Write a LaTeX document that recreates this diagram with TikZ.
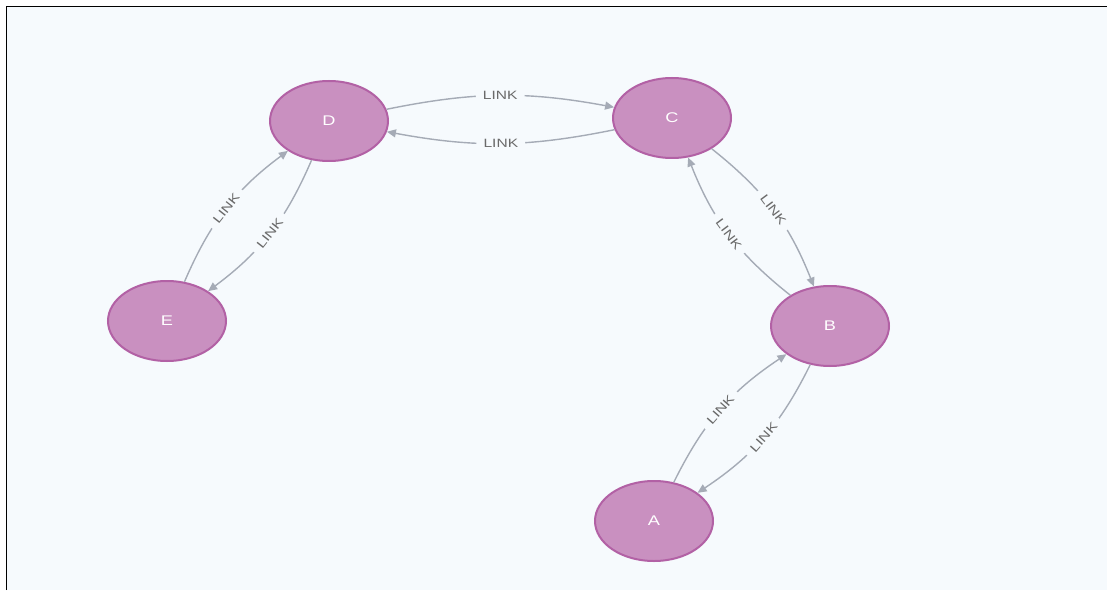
\documentclass[tikz,border=0pt]{standalone}
\usepackage{fontspec}
\usepackage{graphicx}
\setmainfont{Liberation Sans}
\usetikzlibrary{shapes.geometric,arrows.meta}
\definecolor{canvas}{HTML}{F6FAFD}
\definecolor{nodefill}{HTML}{C990C0}
\definecolor{nodeline}{HTML}{B261A5}
\definecolor{relline}{HTML}{A5ABB6}
\definecolor{reltext}{HTML}{6A6A6A}
% slightly widened lettering
\newcommand\stretchx[1]{\scalebox{1.3}[1]{#1}}
\begin{document}
\begin{tikzpicture}[x=1pt,y=1pt,
  entity/.style={ellipse, draw=nodeline, fill=nodefill, line width=2pt,
    minimum width=118pt, minimum height=80pt, inner sep=0pt, text=white,
    font=\fontsize{14}{16}\selectfont},
  rel/.style={draw=relline, line width=1.4pt,
    -{Triangle[length=9pt,width=8pt]}, bend left=#1},
  rel/.default=15,
  tag/.style={midway, sloped, fill=canvas, text=reltext, inner xsep=7pt,
    inner ysep=1pt, font=\fontsize{12}{14}\selectfont}]
\useasboundingbox (0,0) rectangle (1107,590);
\fill[white] (0,0) rectangle (1107,590);
\fill[canvas] (6.5,0) rectangle (1107,583.5);
\draw[black, line width=1.8pt] (6.5,0) -- (6.5,583.5) -- (1107,583.5);

% graph nodes
\node[entity] (D) at (329,469) {\stretchx{D}};
\node[entity] (C) at (672,472) {\stretchx{C}};
\node[entity] (E) at (167,269) {\stretchx{E}};
\node[entity] (B) at (830,264) {\stretchx{B}};
\node[entity] (A) at (654,69)  {\stretchx{A}};

% relationships, each pair drawn in both directions
\draw[rel=11] (D) to node[tag] {\stretchx{LINK}} (C);
\draw[rel=11] (C) to node[tag] {\stretchx{LINK}} (D);
\draw[rel] (E) to node[tag] {\stretchx{LINK}} (D);
\draw[rel] (D) to node[tag] {\stretchx{LINK}} (E);
\draw[rel] (C) to node[tag] {\stretchx{LINK}} (B);
\draw[rel] (B) to node[tag] {\stretchx{LINK}} (C);
\draw[rel] (A) to node[tag] {\stretchx{LINK}} (B);
\draw[rel] (B) to node[tag] {\stretchx{LINK}} (A);
\end{tikzpicture}
\end{document}
